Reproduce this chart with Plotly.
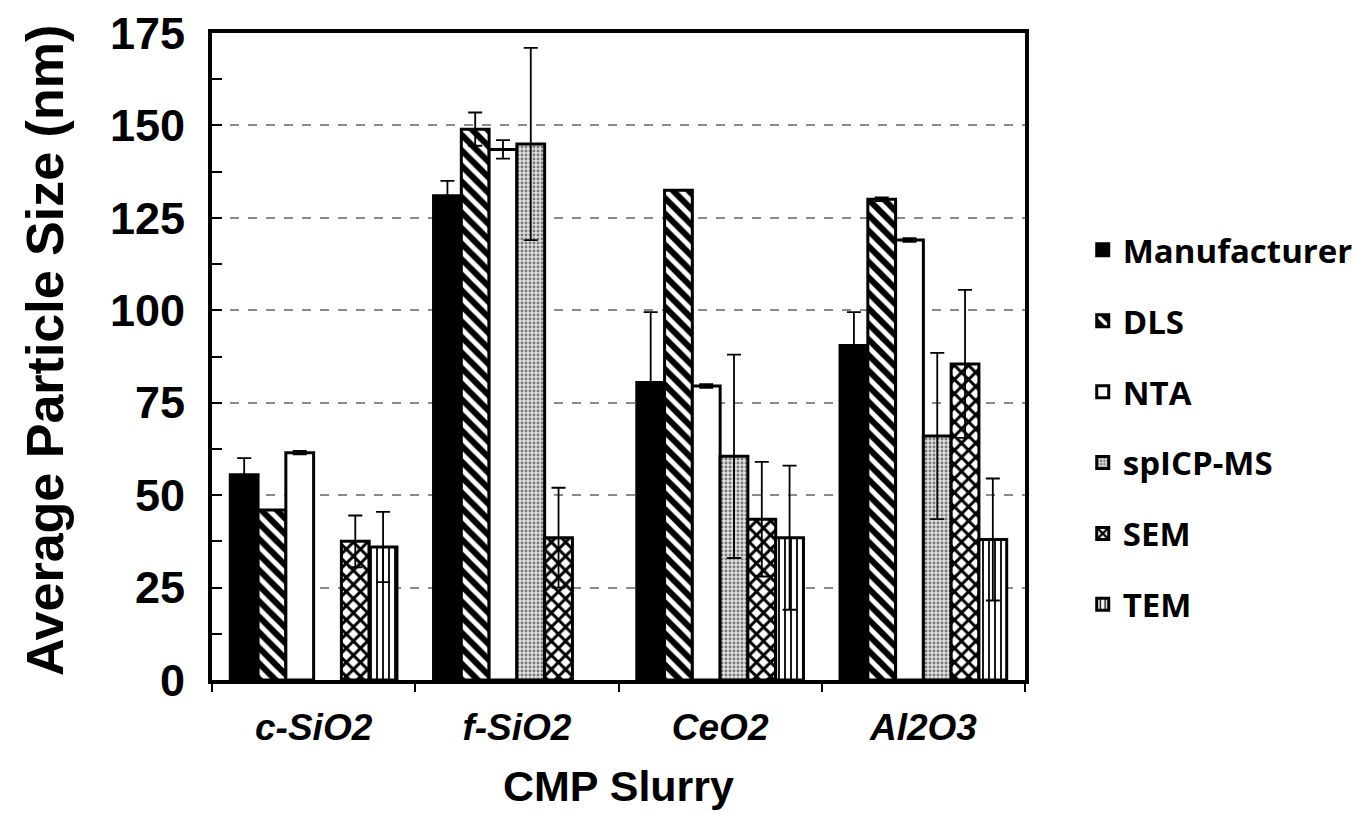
import plotly.graph_objects as go

categories = ["c-SiO2", "f-SiO2", "CeO2", "Al2O3"]

manufacturer = [55.5, 131, 80.5, 90.5]
manufacturer_err = [4.5, 4, 19, 9]
dls = [46, 149, 132.5, 130]
dls_err = [0, 4.5, 0, 0.5]
nta = [61.5, 143.5, 79.5, 119]
nta_err = [0.5, 2.5, 0.5, 0.5]
spicp = [None, 145, 60.5, 66]
spicp_err = [0, 26, 27.5, 22.5]
sem = [37.5, 38.5, 43.5, 85.5]
sem_err = [7, 13.5, 15.5, 20]
tem = [36, None, 38.5, 38]
tem_err = [9.5, 0, 19.5, 16.5]

series = [
    ("Manufacturer", manufacturer, manufacturer_err, dict(color="black")),
    ("DLS", dls, dls_err, dict(color="black", pattern=dict(shape="\\", bgcolor="black", fgcolor="white", size=11, solidity=0.45, fillmode="replace"))),
    ("NTA", nta, nta_err, dict(color="white")),
    ("spICP-MS", spicp, spicp_err, dict(color="#cfcfcf", pattern=dict(shape=".", bgcolor="#e0e0e0", fgcolor="#777777", size=4, solidity=0.4, fillmode="replace"))),
    ("SEM", sem, sem_err, dict(color="white", pattern=dict(shape="x", bgcolor="white", fgcolor="black", size=10, solidity=0.5, fillmode="replace"))),
    ("TEM", tem, tem_err, dict(color="white", pattern=dict(shape="|", bgcolor="white", fgcolor="black", size=6, solidity=0.3, fillmode="replace"))),
]

fig = go.Figure()
for i, (name, vals, errs, mk) in enumerate(series):
    mk = dict(mk)
    mk["line"] = dict(color="black", width=3)
    fig.add_trace(go.Bar(
        name=name, x=categories, y=vals,
        marker=mk,
        legendgroup=f"g{i}",
        error_y=dict(type="data", array=errs, visible=True, color="black", thickness=1.8, width=7),
    ))

fig.update_layout(
    barmode="group",
    bargap=0.18,
    bargroupgap=0,
    width=1362, height=806,
    margin=dict(l=204, r=332, t=25, b=134),
    paper_bgcolor="white",
    plot_bgcolor="white",
    font=dict(family="Liberation Sans, Arial", color="black"),
    legend=dict(
        x=1.071, y=0.708, xanchor="left", yanchor="top",
        font=dict(family="Open Sans", size=33, weight="bold", color="black"),
        tracegroupgap=25,
        bgcolor="rgba(0,0,0,0)",
    ),
    annotations=[dict(
        text="Average Particle Size (nm)", textangle=-90,
        xref="paper", yref="paper", x=-0.2054, y=0.5085,
        xanchor="center", yanchor="middle", showarrow=False,
        font=dict(family="Liberation Sans", size=52, weight="bold", color="black"),
    )],
)

fig.update_yaxes(
    range=[0, 175],
    tickvals=[0, 25, 50, 75, 100, 125, 150, 175],
    ticks="inside", ticklen=10, tickwidth=2, tickcolor="black",
    minor=dict(dtick=12.5, ticks="inside", ticklen=10, tickwidth=2, tickcolor="black", showgrid=False),
    showline=True, linewidth=4, linecolor="black", mirror=True,
    showgrid=True, gridcolor="#8a8a8a", griddash="dash", gridwidth=1.5,
    tickfont=dict(family="Liberation Sans", size=45, weight="bold", color="black"),
    ticklabelstandoff=14,
    ticklabeloverflow="allow",
    automargin=False,
    zeroline=False,
)

fig.update_xaxes(
    type="category",
    tickson="boundaries",
    ticks="outside", ticklen=8, tickwidth=2, tickcolor="black",
    showline=True, linewidth=4, linecolor="black", mirror=True,
    showgrid=False,
    tickfont=dict(family="Liberation Sans", size=37, weight="bold", style="italic", color="black"),
    ticklabelstandoff=12,
    ticklabeloverflow="allow",
    automargin=False,
    title=dict(text="CMP Slurry", standoff=24,
               font=dict(family="Liberation Sans", size=43, weight="bold", color="black")),
)

fig.write_html("out.html")
